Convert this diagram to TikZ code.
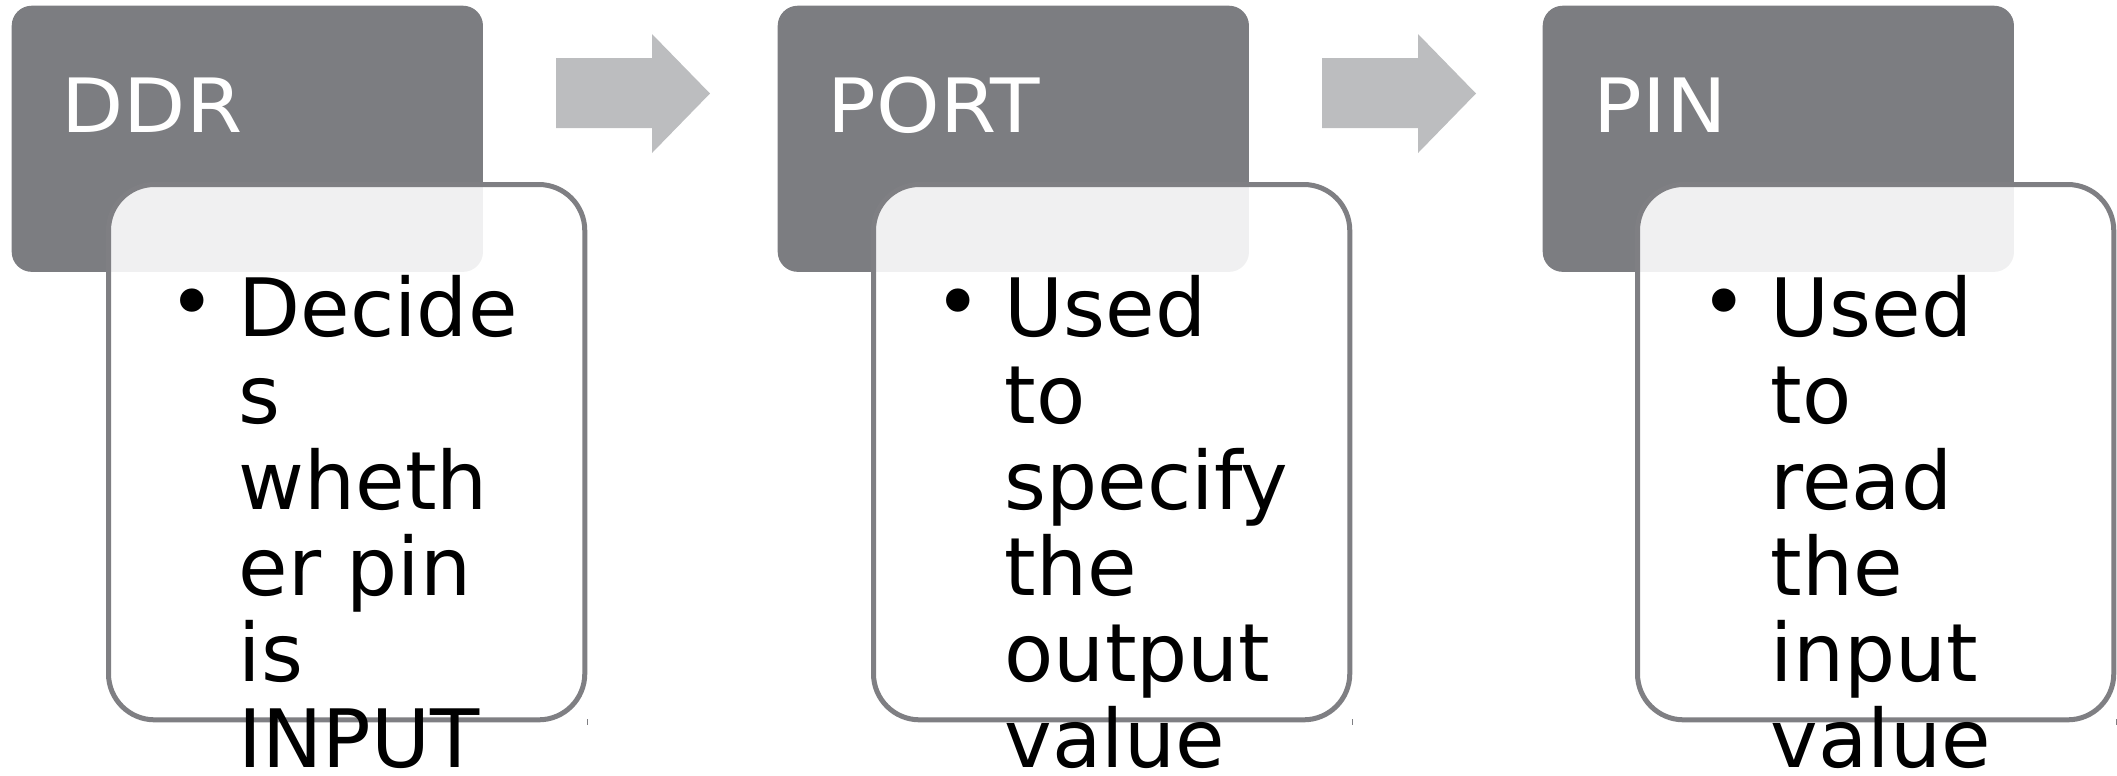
\documentclass[tikz,border=0pt]{standalone}
\usepackage{fontspec}
\setmainfont{DejaVu Sans}
\newfontfamily\titlefont[FakeStretch=1.08]{DejaVu Sans}
\usepackage{tikz}
\usetikzlibrary{calc}
\tikzset{>=latex}
\definecolor{headgray}{HTML}{7C7D81}
\definecolor{framegray}{HTML}{7F7F83}
\definecolor{arrowgray}{HTML}{BCBDBF}
\tikzset{
	headbox/.style={fill=headgray, rounded corners=0.2cm, inner sep=0pt, minimum width=4.71cm, minimum height=2.66cm, anchor=north west},
	bodybox/.style={draw=framegray, line width=0.05cm, fill=white, fill opacity=0.89, rounded corners=0.46cm, inner sep=0pt, minimum width=4.76cm, minimum height=5.35cm, anchor=north west},
	headtext/.style={text=white, font=\titlefont\fontsize{21.3}{25}\selectfont, inner sep=0pt, anchor=base west},
	bodytext/.style={font=\fontsize{22.9}{24.5}\selectfont, inner sep=0pt, anchor=north west, align=left},
	bulletdot/.style={font=\fontsize{22.9}{24.5}\selectfont, inner sep=0pt, anchor=base west},
	stepArrow/.style={fill=arrowgray},
}

\begin{document}
\begin{tikzpicture}[x=0.01cm,y=-0.01cm]
			\useasboundingbox (0,0) rectangle (2117,775);
			\node[headbox] (ddr) at (11,5) {};
			\node[headtext] (ddrtitle) at (61,132) {DDR};
			\node[bodybox] (ddrbody) at (106,182) {};
			\draw[framegray, line width=0.01cm] ($(ddrbody.south east)+(0,-3)$) -- ++(0,6);
			\node[bulletdot] (ddrdot) at (168,330) {•};
			\node[bodytext] (ddrnote) at (238,275) {Decide\\s\\wheth\\er pin\\is\\INPUT};
			\fill[stepArrow] (556,58) -- (652,58) -- (652,34) -- (710,93.5) -- (652,153) -- (652,128) -- (556,128) -- cycle;
			
			\node[headbox] (port) at (777,5) {};
			\node[headtext] (porttitle) at (827,132) {PORT};
			\node[bodybox] (portbody) at (871,182) {};
			\draw[framegray, line width=0.01cm] ($(portbody.south east)+(0,-3)$) -- ++(0,6);
			\node[bulletdot] (portdot) at (934,330) {•};
			\node[bodytext] (portnote) at (1004,275) {Used\\to\\specify\\the\\output\\value};
			\fill[stepArrow] (1322,58) -- (1418,58) -- (1418,34) -- (1476,93.5) -- (1418,153) -- (1418,128) -- (1322,128) -- cycle;
			
			\node[headbox] (pin) at (1542,5) {};
			\node[headtext] (pintitle) at (1593,132) {PIN};
			\node[bodybox] (pinbody) at (1635,182) {};
			\draw[framegray, line width=0.01cm] ($(pinbody.south east)+(0,-3)$) -- ++(0,6);
			\node[bulletdot] (pindot) at (1700,330) {•};
			\node[bodytext] (pinnote) at (1770,275) {Used\\to\\read\\the\\input\\value};
		\end{tikzpicture}
\end{document}
